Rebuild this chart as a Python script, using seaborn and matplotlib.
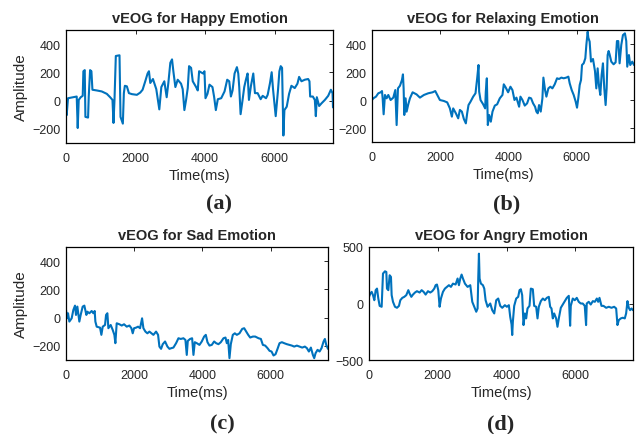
import numpy as np
import pandas as pd
import seaborn as sns
import matplotlib.pyplot as plt

# vEOG traces (time in ms, amplitude)
time_a = [0, 19, 58, 212, 308, 337, 366, 423, 481, 500, 539, 558, 635, 654, 693, 731, 760, 885,
          1029, 1174, 1270, 1337, 1366, 1395, 1433, 1539, 1568, 1635, 1664, 1693, 1751, 1809, 1895,
          2039, 2136, 2203, 2280, 2347, 2386, 2424, 2501, 2597, 2684, 2742, 2828, 2896, 2944, 3001,
          3050, 3088, 3146, 3213, 3309, 3357, 3405, 3454, 3502, 3540, 3598, 3646, 3742, 3790, 3829,
          3944, 3983, 4012, 4069, 4127, 4213, 4262, 4310, 4367, 4464, 4560, 4637, 4695, 4743, 4791,
          4849, 4916, 4955, 4983, 5022, 5079, 5127, 5175, 5223, 5262, 5320, 5387, 5435, 5512, 5599,
          5657, 5753, 5801, 5868, 5916, 5955, 6032, 6099, 6138, 6176, 6215, 6234, 6253, 6282, 6349,
          6417, 6484, 6580, 6657, 6705, 6773, 6869, 6965, 7003, 7023, 7100, 7157, 7186, 7215, 7282,
          7350, 7446, 7542, 7619, 7667, 7680]
amp_a = [5, -103, 17, 24, 29, -194, 5, 24, 34, 208, 216, -115, -120, 29, 216, 208, 77, 72,
         65, 48, 24, 5, -158, 5, 316, 321, -115, -163, 53, 105, 101, 53, 46,
         41, 57, 77, 137, 192, 208, 125, 153, 81, -62, 96, 137, 24, 125, 268,
         292, 208, 96, 148, 120, 81, -67, 5, 89, 244, 232, 137, 96, 72, 208,
         192, 208, 17, 48, 113, 96, 24, -67, 10, 17, 65, 148, 137, 29, 72,
         192, 237, 192, 96, -96, 5, 96, 148, 192, 5, 105, 192, 53, 53, 10,
         34, 17, 41, 125, 201, 81, -110, 77, 208, 244, 232, 5, -247, -67, -43,
         48, 105, 89, 120, 168, 137, 148, 153, 137, 29, 29, 5, -110, 24, -38,
         -19, 5, 34, 77, 53, -48]

time_b = [0, 39, 117, 185, 254, 293, 312, 341, 380, 429, 478, 546, 624, 683, 722, 761, 820, 878,
          907, 927, 946, 985, 1015, 1063, 1112, 1190, 1307, 1405, 1522, 1649, 1776, 1854, 1912,
          1990, 2107, 2205, 2283, 2341, 2380, 2458, 2527, 2576, 2634, 2693, 2751, 2790, 2829, 2888,
          2966, 3034, 3083, 3122, 3141, 3181, 3259, 3317, 3336, 3366, 3395, 3434, 3483, 3532, 3600,
          3668, 3746, 3824, 3863, 3922, 3990, 4058, 4117, 4176, 4234, 4312, 4351, 4410, 4478, 4546,
          4605, 4663, 4722, 4780, 4819, 4858, 4897, 4946, 4995, 5024, 5073, 5112, 5170, 5229, 5288,
          5356, 5424, 5483, 5551, 5619, 5697, 5756, 5795, 5854, 5912, 5971, 6010, 6049, 6088, 6127,
          6156, 6205, 6253, 6283, 6322, 6341, 6380, 6400, 6419, 6478, 6536, 6575, 6614, 6653, 6692,
          6731, 6770, 6809, 6848, 6878, 6907, 6936, 6965, 7014, 7082, 7141, 7180, 7219, 7258, 7307,
          7356, 7414, 7453, 7482, 7531, 7570, 7629, 7680]
amp_b = [0, 12, 24, 48, 55, 64, 12, -102, 36, 12, 36, 0, 17, 71, -179, 83, 102, 143,
         183, 83, -107, 12, -83, -31, 12, 55, 40, 17, 36, 48, 55, 64, 36,
         0, -7, -17, -60, -119, -60, -95, -131, -71, -83, -136, -167, -95, -36, -12,
         24, 48, 155, 250, 60, 0, -31, -60, 60, 155, -179, -107, -155, -83, -40,
         -31, 12, 36, 112, 88, 55, 95, 71, 0, 17, -48, 24, 0, -40, -24,
         17, 12, -24, -48, -83, -95, -36, -83, 12, 160, 71, 24, 83, 95, 83,
         112, 155, 150, 160, 155, 160, 167, 119, 71, 36, -12, -55, 17, 107, 143,
         250, 262, 298, 393, 488, 445, 417, 345, 274, 293, 207, 83, 226, 102, 36,
         179, 262, 83, -36, 83, 321, 350, 326, 274, 255, 269, 421, 421, 262, 393,
         464, 476, 421, 238, 321, 250, 274, 250]

time_c = [0, 29, 59, 98, 166, 215, 264, 293, 333, 391, 430, 489, 538, 597, 626, 685, 753, 802,
          841, 861, 900, 998, 1037, 1076, 1144, 1174, 1213, 1242, 1310, 1369, 1418, 1447, 1486,
          1565, 1633, 1702, 1780, 1858, 1917, 1956, 1995, 2054, 2113, 2171, 2230, 2269, 2328, 2386,
          2445, 2504, 2562, 2640, 2699, 2738, 2787, 2836, 2904, 2973, 3032, 3090, 3149, 3227, 3296,
          3364, 3442, 3501, 3540, 3570, 3638, 3697, 3736, 3775, 3834, 3912, 3980, 4049, 4098, 4147,
          4206, 4274, 4342, 4401, 4469, 4538, 4616, 4675, 4714, 4753, 4792, 4831, 4890, 4949, 5008,
          5086, 5165, 5223, 5282, 5341, 5399, 5478, 5546, 5644, 5712, 5771, 5839, 5907, 5966, 6025,
          6083, 6142, 6201, 6259, 6328, 6396, 6474, 6552, 6621, 6689, 6767, 6846, 6924, 7002, 7061,
          7120, 7178, 7237, 7276, 7315, 7374, 7433, 7491, 7550, 7589, 7628, 7680]
amp_c = [54, -5, 31, -28, -5, 54, 85, 19, 78, -28, 19, 78, 85, 19, 42, 31, 47, 31,
         47, -28, -64, -71, -122, -64, -52, 19, 31, -75, -52, -87, -122, -181, -40,
         -47, -56, -47, -64, -56, -75, -111, -75, -71, -64, -75, -5, -75, -99, -111,
         -99, -111, -122, -99, -122, -205, -221, -188, -169, -205, -221, -216, -212, -181, -146,
         -151, -146, -158, -264, -165, -151, -146, -264, -174, -181, -193, -169, -134, -122, -174,
         -198, -193, -169, -181, -188, -174, -146, -141, -181, -158, -287, -188, -122, -111, -122,
         -111, -80, -75, -99, -122, -141, -134, -134, -146, -151, -193, -198, -216, -235, -240,
         -268, -259, -221, -181, -174, -181, -188, -193, -198, -205, -198, -205, -212, -205, -216,
         -240, -212, -264, -287, -252, -228, -240, -216, -169, -151, -193, -221]

time_d = [0, 39, 78, 116, 155, 194, 233, 271, 310, 368, 388, 407, 465, 504, 523, 562, 601, 639,
          659, 698, 756, 814, 872, 911, 969, 1027, 1085, 1144, 1182, 1231, 1279, 1337, 1395,
          1473, 1531, 1589, 1647, 1715, 1783, 1841, 1899, 1938, 1977, 2015, 2054, 2093, 2151, 2209,
          2267, 2325, 2383, 2442, 2519, 2577, 2616, 2655, 2694, 2733, 2791, 2868, 2946, 3004, 3062,
          3120, 3159, 3178, 3198, 3217, 3256, 3314, 3353, 3392, 3450, 3527, 3585, 3643, 3701, 3759,
          3818, 3876, 3953, 4011, 4069, 4108, 4147, 4166, 4185, 4224, 4282, 4340, 4379, 4418, 4456,
          4495, 4534, 4572, 4611, 4669, 4708, 4766, 4805, 4863, 4902, 4940, 4999, 5057, 5115, 5173,
          5231, 5270, 5309, 5347, 5386, 5444, 5483, 5522, 5580, 5638, 5696, 5754, 5812, 5851, 5870,
          5928, 5986, 6044, 6102, 6160, 6218, 6276, 6315, 6334, 6392, 6450, 6512, 6570, 6628, 6667,
          6705, 6763, 6821, 6899, 6976, 7054, 7131, 7190, 7228, 7267, 7325, 7383, 7441, 7480, 7519,
          7557, 7596, 7635, 7680]
amp_d = [59, 88, 103, 74, 29, 118, 132, 44, -21, -29, 132, 265, 285, 279, 132, 118, 250, 235,
         74, 15, -29, -38, -21, 29, 50, 59, 74, 118, 88, 59, 79, 97, 109,
         97, 118, 103, 79, 109, 97, 109, 132, 162, 168, 118, -29, 44, 103, 132,
         147, 162, 147, 176, 168, 221, 162, 221, 256, 221, 176, 147, 162, 15, -29,
         -73, -44, 221, 441, 221, 176, 162, 132, 29, -29, 0, -59, -88, 29, 44,
         -21, -38, -15, -29, -15, -118, -185, -279, -162, -21, 44, 59, 118, 126, 74,
         -191, -88, -132, -44, -21, 132, 126, -21, -29, -132, -29, 21, 44, 29, 50,
         59, -29, -44, -132, -88, -132, -206, -132, -38, -9, 21, 50, 68, -197, -21,
         44, 29, 50, 15, 0, 0, -21, -191, 0, 15, -9, 21, 15, 44, 15,
         50, -21, -21, -38, -29, -38, -29, -44, -191, -147, -132, -126, -132, -88, 21,
         -38, -59, -44, -59]

titles = ['vEOG for Happy Emotion', 'vEOG for Relaxing Emotion',
          'vEOG for Sad Emotion', 'vEOG for Angry Emotion']
letters = ['(a)', '(b)', '(c)', '(d)']

sns.set_style('white')
plt.rcParams['font.family'] = ['Liberation Sans', 'DejaVu Sans']

W, H = 638, 435
fig = plt.figure(figsize=(W / 100, H / 100), dpi=100)

# axes boxes in pixels: left, top, right, bottom
boxes = [(66, 31, 333, 144), (372, 31, 634, 143), (66, 248, 328, 361), (369, 248, 633, 361)]
series = [(time_a, amp_a), (time_b, amp_b), (time_c, amp_c), (time_d, amp_d)]
ylims = [(-300, 500), (-300, 500), (-300, 500), (-500, 500)]
yticks = [[-200, 0, 200, 400]] * 3 + [[-500, 0, 500]]
letter_pos = [(219, 204), (507, 204), (222, 424), (501, 424)]

for i in range(4):
    l, t, r, b = boxes[i]
    ax = fig.add_axes([l / W, 1 - b / H, (r - l) / W, (b - t) / H])
    df = pd.DataFrame({'Time': series[i][0], 'Amplitude': series[i][1]})
    sns.lineplot(data=df, x='Time', y='Amplitude', ax=ax, color='#0072BD', linewidth=1.5,
                 estimator=None, sort=False)
    ax.set_xlim(0, 7680)
    ax.set_ylim(*ylims[i])
    ax.set_xticks([0, 2000, 4000, 6000])
    ax.set_yticks(yticks[i])
    ax.tick_params(direction='in', top=True, right=True, length=3, width=0.7,
                   labelsize=9, labelcolor='#262626', color='#262626')
    ax.tick_params(axis='x', pad=6.5)
    ax.tick_params(axis='y', pad=4)
    for s in ax.spines.values():
        s.set_color('black')
        s.set_linewidth(0.9)
    ax.set_title(titles[i], fontsize=10.5, fontweight='bold', pad=5.5)
    ax.set_xlabel('Time(ms)', fontsize=10.5, labelpad=3, color='#262626')
    if i % 2 == 0:
        ax.set_ylabel('Amplitude', fontsize=11, labelpad=3, color='#262626')
    else:
        ax.set_ylabel('')
    fig.text(letter_pos[i][0] / W, 1 - letter_pos[i][1] / H, letters[i],
             family='Liberation Serif', fontweight='bold', fontsize=16,
             ha='center', va='center')

fig.savefig('out.png', dpi=100)
